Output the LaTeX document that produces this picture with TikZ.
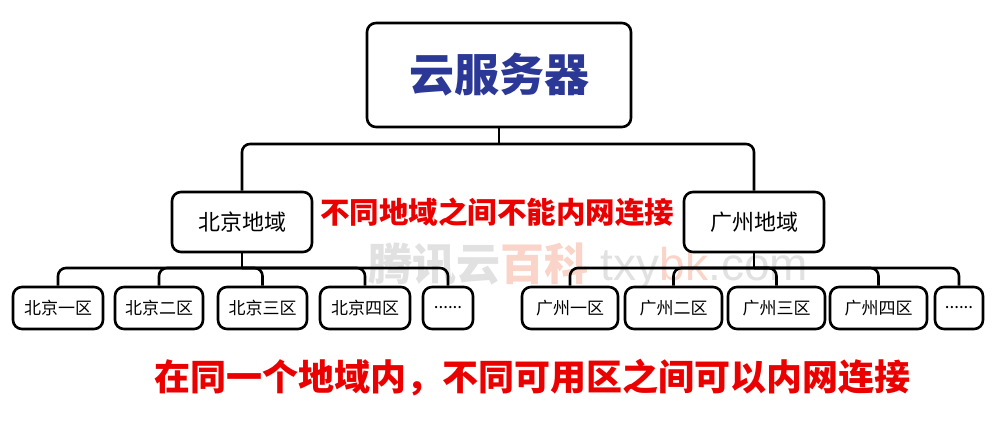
\documentclass[tikz,border=0pt]{standalone}
\usepackage{fontspec}
\newfontfamily\cjk{Noto Sans CJK SC}
\newfontfamily\wmfont{Liberation Sans}
\definecolor{titleblue}{RGB}{44,56,150}
\definecolor{alertred}{RGB}{235,0,0}
\definecolor{wmgray}{RGB}{225,225,225}
\definecolor{wmred}{RGB}{250,212,200}
\begin{document}
\begin{tikzpicture}[x=1pt,y=-1pt,
  box/.style={draw=black,line width=2.6pt,rounded corners=9pt,fill=white,inner sep=0pt,font=\cjk},
  zone/.style={box,minimum height=42pt,font=\cjk\fontsize{17}{17}\selectfont},
  region/.style={box,minimum width=140pt,minimum height=60pt,font=\cjk\fontsize{22}{22}\selectfont},
  wire/.style={line width=2.6pt,rounded corners=8pt},
  note/.style={text=alertred,inner sep=0pt}]
\useasboundingbox (0,0) rectangle (1000,428);
\fill[white] (0,0) rectangle (1000,428);
% watermark
\node[inner sep=0pt,anchor=center] (wm) at (588,266) {\cjk\bfseries\fontsize{44}{44}\selectfont\textcolor{wmgray}{腾讯云}\textcolor{wmred}{百科}\wmfont\mdseries\fontsize{46}{46}\selectfont\ \textcolor{wmgray}{txy}\textcolor{wmred}{bk}\textcolor{wmgray}{.com}};
% nodes
\node[box,minimum width=264pt,minimum height=104pt,font=\cjk\bfseries\fontsize{45}{45}\selectfont,text=titleblue] (top) at (499,75) {云服务器};
\node[region] (bj) at (242,222) {北京地域};
\node[region] (gz) at (754,222) {广州地域};
\node[note,font=\cjk\bfseries\fontsize{29.5}{30}\selectfont] (mid) at (497,212) {不同地域之间不能内网连接};
\node[zone,minimum width=90pt] (bj1) at (58,308) {北京一区};
\node[zone,minimum width=88pt] (bj2) at (159,308) {北京二区};
\node[zone,minimum width=89pt] (bj3) at (262.5,308) {北京三区};
\node[zone,minimum width=90pt] (bj4) at (365,308) {北京四区};
\node[zone,minimum width=50pt] (bj5) at (448,308) {......};
\node[zone,minimum width=96pt] (gz1) at (570,308) {广州一区};
\node[zone,minimum width=97pt] (gz2) at (673.5,308) {广州二区};
\node[zone,minimum width=97pt] (gz3) at (776.5,308) {广州三区};
\node[zone,minimum width=97pt] (gz4) at (878.5,308) {广州四区};
\node[zone,minimum width=48pt] (gz5) at (959,308) {......};
\node[note,font=\cjk\bfseries\fontsize{36}{36}\selectfont] (bottom) at (532,378) {在同一个地域内，不同可用区之间可以内网连接};
% connectors
\coordinate (topbus) at (top.south |- 0,144);
\coordinate (bjbus) at (bj.south |- 0,268);
\coordinate (gzbus) at (gz.south |- 0,268);
\draw[wire] (top.south) -- (topbus);
\draw[wire] (bj.north) |- (topbus);
\draw[wire] (gz.north) |- (topbus);
\draw[wire] (bj.south) -- (bjbus);
\draw[wire] (gz.south) -- (gzbus);
\foreach \z in {bj1,bj2,bj3,bj4,bj5} \draw[wire] (\z.north) |- (bjbus);
\foreach \z in {gz1,gz2,gz3,gz4,gz5} \draw[wire] (\z.north) |- (gzbus);
\end{tikzpicture}
\end{document}
